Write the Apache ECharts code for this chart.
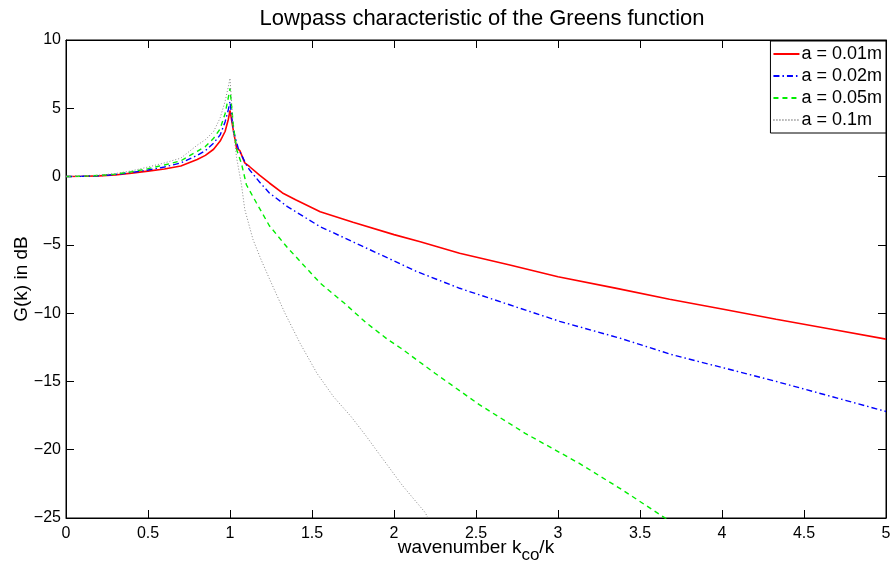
<!DOCTYPE html>
<html>
<head>
<meta charset="utf-8">
<script src="https://cdn.jsdelivr.net/npm/echarts@6/dist/echarts.min.js"></script>
<style>
  html, body { margin: 0; padding: 0; background: #fff; }
  #chart { width: 891px; height: 562px; }
</style>
</head>
<body>
<div id="chart"></div>
<script>
// Wavenumber ratio k_co/k and Green's function magnitude in dB, per radius a
const xA001 = [0, 0.1, 0.2, 0.3, 0.4, 0.5, 0.6, 0.7, 0.8, 0.85, 0.9, 0.94, 0.97, 0.99, 1.0, 1.02, 1.04, 1.06, 1.09, 1.12, 1.18, 1.24, 1.32, 1.4, 1.55, 1.75, 2.0, 2.16, 2.4, 2.7, 3.0, 3.35, 3.68, 4.0, 4.33, 4.66, 5.0];
const gA001 = [0, 0.02, 0.05, 0.12, 0.25, 0.4, 0.55, 0.78, 1.25, 1.55, 2.0, 2.6, 3.3, 4.2, 4.85, 3.4, 2.1, 1.9, 1.0, 0.72, 0.1, -0.47, -1.2, -1.7, -2.57, -3.35, -4.25, -4.77, -5.62, -6.46, -7.33, -8.17, -8.98, -9.7, -10.45, -11.16, -11.9];

const xA002 = [0, 0.1, 0.2, 0.3, 0.4, 0.5, 0.6, 0.7, 0.8, 0.85, 0.9, 0.94, 0.97, 0.99, 1.0, 1.02, 1.05, 1.1, 1.12, 1.18, 1.24, 1.35, 1.55, 1.8, 2.14, 2.4, 2.7, 3.01, 3.38, 3.7, 4.0, 4.33, 4.66, 5.0];
const gA002 = [0, 0.02, 0.06, 0.15, 0.3, 0.48, 0.7, 1.0, 1.55, 1.9, 2.45, 3.05, 4.0, 4.9, 5.5, 3.4, 2.07, 0.85, 0.48, -0.4, -1.2, -2.2, -3.67, -5.06, -6.96, -8.18, -9.37, -10.6, -11.84, -13.06, -13.98, -15.0, -16.08, -17.2];

const xA005 = [0, 0.1, 0.2, 0.3, 0.4, 0.5, 0.6, 0.7, 0.8, 0.85, 0.9, 0.94, 0.97, 0.99, 1.0, 1.02, 1.04, 1.07, 1.1, 1.16, 1.24, 1.35, 1.55, 1.7, 1.83, 1.965, 2.04, 2.25, 2.52, 2.8, 3.13, 3.4, 3.64, 3.7];
const gA005 = [0, 0.03, 0.08, 0.18, 0.35, 0.58, 0.85, 1.15, 1.85, 2.2, 2.8, 3.5, 4.6, 5.8, 6.46, 3.8, 2.0, 0.95, -0.6, -1.9, -3.6, -5.2, -7.8, -9.3, -10.7, -11.96, -12.55, -14.4, -16.7, -18.8, -21.0, -23.0, -24.9, -25.4];

const xA01 = [0, 0.1, 0.2, 0.3, 0.4, 0.5, 0.6, 0.7, 0.8, 0.85, 0.9, 0.94, 0.97, 0.99, 1.0, 1.02, 1.04, 1.07, 1.09, 1.14, 1.19, 1.244, 1.335, 1.427, 1.53, 1.63, 1.74, 1.83, 1.915, 2.05, 2.19, 2.22];
const gA01 = [0, 0.04, 0.1, 0.22, 0.42, 0.7, 1.0, 1.35, 2.3, 2.7, 3.3, 4.3, 5.5, 6.6, 7.2, 3.5, 1.4, -0.6, -2.4, -4.6, -6.1, -7.58, -10.0, -12.2, -14.4, -16.1, -17.6, -19.0, -20.4, -22.6, -24.6, -25.3];

const seriesNames = ['a = 0.01m', 'a = 0.02m', 'a = 0.05m', 'a = 0.1m'];
const xTicks = { min: 0, max: 5, step: 0.5 };
const yTicks = { min: -25, max: 10, step: 5 };

const pair = (xs, ys) => xs.map((x, i) => [x, ys[i]]);
const FONT = 'Liberation Sans, Arial, Helvetica, sans-serif';
const minus = v => String(v).replace('-', '\u2212');

const chart = echarts.init(document.getElementById('chart'), null, { renderer: 'canvas' });

const tickStyle = { show: true, inside: true, length: 8, lineStyle: { color: '#000', width: 1 } };
const frameLine = { show: true, onZero: false, lineStyle: { color: '#000', width: 1 } };

chart.setOption({
  animation: false,
  backgroundColor: '#fff',
  textStyle: { fontFamily: FONT },
  title: {
    text: 'Lowpass characteristic of the Greens function',
    left: 477, top: 3, textAlign: 'center',
    textStyle: { fontFamily: FONT, fontSize: 22, fontWeight: 'normal', color: '#000' }
  },
  grid: {
    left: 66, right: 5, top: 40, bottom: 44,
    outerBoundsMode: 'none', containLabel: false,
    show: true, borderColor: '#000', borderWidth: 1, backgroundColor: '#fff'
  },
  legend: {
    orient: 'vertical', right: 5, top: 41,
    backgroundColor: '#fff', borderColor: '#000', borderWidth: 1,
    padding: [4, 4, 4, 2], itemGap: 4, itemWidth: 26, itemHeight: 16,
    itemStyle: { color: 'rgba(0,0,0,0)', borderColor: 'rgba(0,0,0,0)', borderWidth: 0 },
    textStyle: { fontFamily: FONT, fontSize: 18, color: '#000', padding: [0, 0, 0, -3] },
    data: seriesNames
  },
  xAxis: [{
    type: 'value', min: xTicks.min, max: xTicks.max, interval: xTicks.step,
    position: 'bottom',
    axisLine: frameLine,
    axisTick: tickStyle,
    splitLine: { show: false },
    axisLabel: { color: '#000', fontSize: 16, fontFamily: FONT, margin: 8 },
    name: '{n|wavenumber k}{s|co}{n|/k}',
    nameLocation: 'middle', nameGap: 20, nameMoveOverlap: false,
    nameTextStyle: {
      rich: {
        n: { fontFamily: FONT, fontSize: 19, color: '#000', verticalAlign: 'top', padding: [0, 0, 0, 0] },
        s: { fontFamily: FONT, fontSize: 17, color: '#000', verticalAlign: 'top', padding: [9, 0, 0, 0] }
      }
    }
  }, {
    type: 'value', min: xTicks.min, max: xTicks.max, interval: xTicks.step,
    position: 'top',
    axisLine: frameLine,
    axisTick: tickStyle, axisLabel: { show: false }, splitLine: { show: false }
  }],
  yAxis: [{
    type: 'value', min: yTicks.min, max: yTicks.max, interval: yTicks.step,
    position: 'left',
    axisLine: frameLine,
    axisTick: tickStyle,
    splitLine: { show: false },
    axisLabel: { color: '#000', fontSize: 16, fontFamily: FONT, margin: 5, formatter: minus },
    name: 'G(k) in dB', nameLocation: 'middle', nameGap: 35, nameRotate: 90, nameMoveOverlap: false,
    nameTextStyle: { fontFamily: FONT, fontSize: 19, color: '#000' }
  }, {
    type: 'value', min: yTicks.min, max: yTicks.max, interval: yTicks.step,
    position: 'right',
    axisLine: frameLine,
    axisTick: tickStyle, axisLabel: { show: false }, splitLine: { show: false }
  }],
  series: [
    { name: seriesNames[0], type: 'line', data: pair(xA001, gA001), symbol: 'none', clip: true,
      lineStyle: { color: '#ff0000', width: 1.6, type: 'solid' }, itemStyle: { color: '#ff0000' } },
    { name: seriesNames[1], type: 'line', data: pair(xA002, gA002), symbol: 'none', clip: true,
      lineStyle: { color: '#0000ff', width: 1.4, type: [6, 3, 1.5, 3] }, itemStyle: { color: '#0000ff' } },
    { name: seriesNames[2], type: 'line', data: pair(xA005, gA005), symbol: 'none', clip: true,
      lineStyle: { color: '#00ee00', width: 1.4, type: [5, 4] }, itemStyle: { color: '#00ee00' } },
    { name: seriesNames[3], type: 'line', data: pair(xA01, gA01), symbol: 'none', clip: true,
      lineStyle: { color: '#888888', width: 1, type: [1, 2] }, itemStyle: { color: '#888888' } }
  ]
});
</script>
</body>
</html>
